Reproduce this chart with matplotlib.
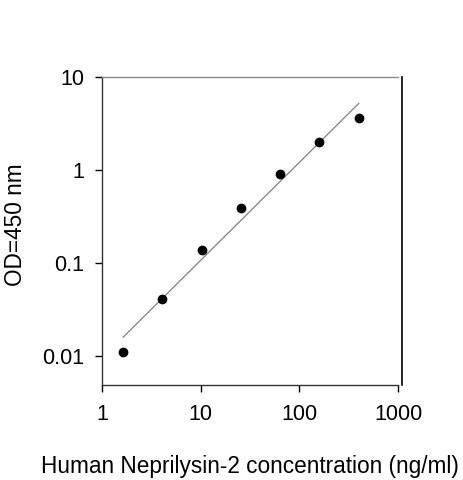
import matplotlib
matplotlib.use("Agg")
import matplotlib.pyplot as plt

# standard curve, 2.5-fold dilution series
conc = [1.64, 4.1, 10.24, 25.6, 64, 160, 400]
od = [0.011, 0.041, 0.139, 0.387, 0.906, 1.99, 3.66]

# fitted line end points
fit_x = [1.64, 400]
fit_y = [0.016, 5.2]

x_ticks = [1, 10, 100, 1000]
x_tick_labels = ['1', '10', '100', '1000']
y_ticks = [0.01, 0.1, 1, 10]
y_tick_labels = ['0.01', '0.1', '1', '10']

plt.rcParams['font.family'] = ['Liberation Sans', 'DejaVu Sans']

fig = plt.figure(figsize=(4.63, 4.80), dpi=100)
ax = fig.add_axes([102 / 463, 1 - 385 / 480, 296 / 463, 308 / 480])

ax.plot(fit_x, fit_y, color='#808080', linewidth=0.9)
ax.plot(conc, od, 'o', color='black', markersize=6)

ax.set_xscale('log')
ax.set_yscale('log')
ax.set_xlim(1, 1000)
ax.set_ylim(0.0049, 10)

ax.set_xticks(x_ticks)
ax.set_xticklabels(x_tick_labels)
ax.set_yticks(y_ticks)
ax.set_yticklabels(y_tick_labels)
ax.minorticks_off()
ax.tick_params(axis='both', direction='out', length=5, width=1, labelsize=15.5)
ax.tick_params(axis='x', pad=9)
ax.tick_params(axis='y', pad=8)

for side in ['left', 'bottom']:
    ax.spines[side].set_color('#333333')
    ax.spines[side].set_linewidth(1)
ax.spines['top'].set_color('#8c8c8c')
ax.spines['top'].set_linewidth(1)
ax.spines['right'].set_color('black')
ax.spines['right'].set_linewidth(1.2)
ax.spines['right'].set_position(('outward', 3))

ax.set_xlabel('Human Neprilysin-2 concentration (ng/ml)', fontsize=16.3, labelpad=21)
ax.set_ylabel('OD=450 nm', fontsize=16.3)
ax.yaxis.set_label_coords(-0.252, 0.519)

fig.savefig('out.png', dpi=100)
